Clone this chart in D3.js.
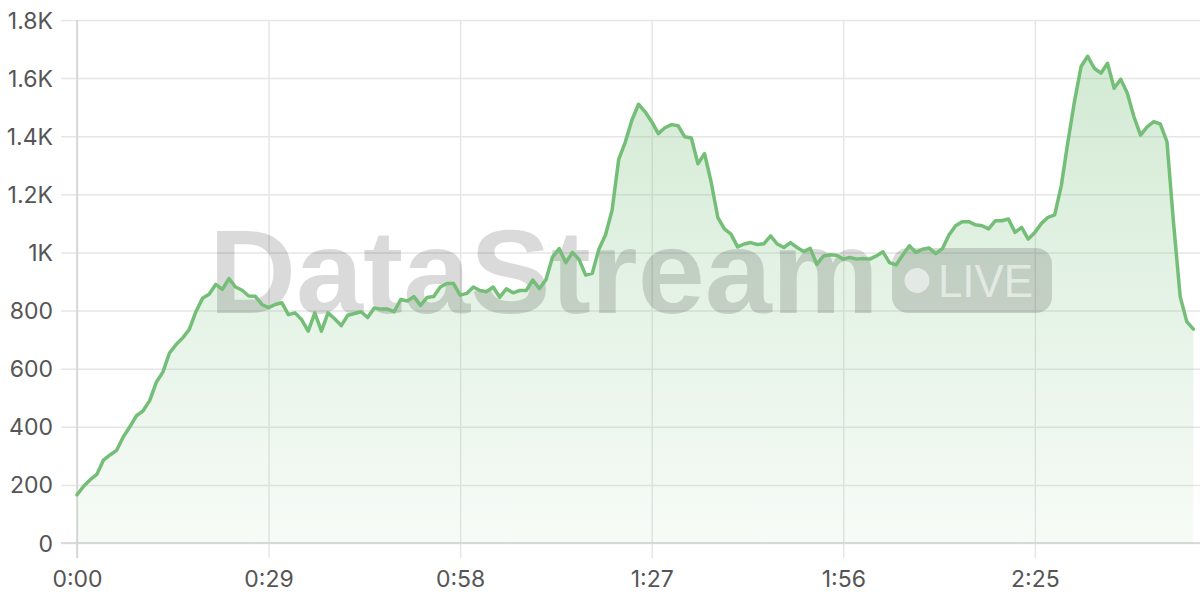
<!DOCTYPE html>
<html>
<head>
<meta charset="utf-8">
<script src="https://cdn.jsdelivr.net/npm/d3@7"></script>
<style>
  html, body { margin: 0; padding: 0; background: #fff; }
  svg { display: block; }
</style>
</head>
<body>
<svg id="chart" width="1200" height="600"></svg>
<script>
// ---- data (one value per second, t = 0..169) ----
const values = [
  166, 195, 218, 236, 285, 303, 319, 365, 400, 438,
  455, 490, 553, 588, 654, 683, 706, 735, 796, 842,
  856, 890, 873, 910, 881, 870, 850, 849, 821, 810,
  821, 827, 786, 792, 769, 729, 792, 729, 792, 772,
  748, 784, 790, 796, 776, 809, 805, 805, 796, 838,
  833, 848, 818, 845, 848, 881, 893, 893, 853, 859,
  881, 869, 865, 881, 846, 875, 861, 869, 869, 905,
  875, 907, 985, 1013, 965, 1000, 976, 922, 928, 1011,
  1060, 1145, 1320, 1380, 1455, 1510, 1484, 1450, 1409, 1429,
  1440, 1436, 1398, 1394, 1305, 1340, 1242, 1121, 1081, 1063,
  1019, 1029, 1034, 1027, 1030, 1057, 1029, 1017, 1034, 1017,
  1003, 1014, 959, 988, 992, 990, 977, 983, 977, 979,
  977, 988, 1002, 965, 957, 991, 1023, 1000, 1011, 1015,
  996, 1013, 1060, 1092, 1106, 1106, 1095, 1092, 1081, 1109,
  1109, 1115, 1069, 1086, 1046, 1069, 1100, 1121, 1129, 1230,
  1380, 1520, 1640, 1675, 1634, 1617, 1651, 1565, 1596, 1548,
  1467, 1404, 1432, 1450, 1442, 1381, 1100, 848, 762, 736
];
const seconds = values.map((_, i) => i);
const xTickValues = [0, 29, 58, 87, 116, 145];
const xTickLabels = ["0:00", "0:29", "0:58", "1:27", "1:56", "2:25"];
const yTickValues = [0, 200, 400, 600, 800, 1000, 1200, 1400, 1600, 1800];
const yTickLabels = ["0", "200", "400", "600", "800", "1K", "1.2K", "1.4K", "1.6K", "1.8K"];
const watermarkText = "DataStream";
const badgeText = "LIVE";

// ---- layout ----
const svg = d3.select("#chart");
const mLeft = 77, mRight = 1200, mTop = 20, mBottom = 543;
const x = d3.scaleLinear().domain([0, 170]).range([mLeft, mRight]);
const y = d3.scaleLinear().domain([0, 1800]).range([mBottom, mTop]);
const lineColor = "#74be78";
const font = "Inter, 'Liberation Sans', sans-serif";

// gradient
const defs = svg.append("defs");
const grad = defs.append("linearGradient").attr("id", "areaGrad")
  .attr("gradientUnits", "userSpaceOnUse")
  .attr("x1", 0).attr("x2", 0).attr("y1", mTop).attr("y2", mBottom);
grad.append("stop").attr("offset", "0%").attr("stop-color", lineColor).attr("stop-opacity", 0.34);
grad.append("stop").attr("offset", "100%").attr("stop-color", lineColor).attr("stop-opacity", 0.06);

// horizontal gridlines + y labels
const yAxis = d3.axisLeft(y).tickValues(yTickValues)
  .tickSize(-(mRight - 61))
  .tickFormat((d, i) => yTickLabels[i]);
const gy = svg.append("g").attr("transform", `translate(61,0)`).call(yAxis);
gy.select(".domain").remove();
gy.selectAll(".tick line").attr("stroke", "#e6e6e6").attr("stroke-width", 1.5)
  .attr("x1", 0).attr("x2", mRight - 61);
gy.selectAll(".tick text").attr("x", -8).attr("dy", "0.35em")
  .attr("fill", "#555").style("font-family", font).style("font-size", "23px");

// vertical gridlines + x labels
const xAxis = d3.axisBottom(x).tickValues(xTickValues)
  .tickSize(-(mBottom + 15 - mTop))
  .tickFormat((d, i) => xTickLabels[i]);
const gx = svg.append("g").attr("transform", `translate(0,${mBottom + 15})`).call(xAxis);
gx.select(".domain").remove();
gx.selectAll(".tick line").attr("stroke", "#e6e6e6").attr("stroke-width", 1.5);
gx.selectAll(".tick text").attr("y", 29).attr("dy", 0)
  .attr("fill", "#555").style("font-family", font).style("font-size", "23px");

// axis lines
svg.append("line").attr("x1", x(0)).attr("x2", x(0)).attr("y1", mTop).attr("y2", mBottom + 15)
  .attr("stroke", "#d2d2d2").attr("stroke-width", 1.5);
svg.append("line").attr("x1", 61).attr("x2", mRight).attr("y1", y(0)).attr("y2", y(0))
  .attr("stroke", "#d2d2d2").attr("stroke-width", 1.5);

// area
const area = d3.area().x((d, i) => x(seconds[i])).y0(y(0)).y1(d => y(d));
svg.append("path").datum(values).attr("d", area).attr("fill", "url(#areaGrad)");

// watermark
const wm = svg.append("g").attr("pointer-events", "none");
wm.append("text").attr("x", 209).attr("y", 313)
  .attr("textLength", 670).attr("lengthAdjust", "spacingAndGlyphs")
  .style("font-family", "'Liberation Sans', Arial, sans-serif")
  .style("font-weight", "bold").style("font-size", "119px")
  .attr("fill", "#000").attr("fill-opacity", 0.145).text(watermarkText);
wm.append("rect").attr("x", 892).attr("y", 248).attr("width", 160).attr("height", 65)
  .attr("rx", 16).attr("fill", "#000").attr("fill-opacity", 0.145);
wm.append("circle").attr("cx", 917).attr("cy", 280.5).attr("r", 12.5)
  .attr("fill", "#fff").attr("fill-opacity", 0.55);
wm.append("text").attr("x", 938).attr("y", 297)
  .attr("textLength", 95).attr("lengthAdjust", "spacingAndGlyphs")
  .style("font-family", "'Liberation Sans', Arial, sans-serif")
  .style("font-size", "47px")
  .attr("fill", "#fff").attr("fill-opacity", 0.55).text(badgeText);

// line
const line = d3.line().x((d, i) => x(seconds[i])).y(d => y(d));
svg.append("path").datum(values).attr("d", line)
  .attr("fill", "none").attr("stroke", lineColor).attr("stroke-width", 3.5)
  .attr("stroke-linejoin", "round").attr("stroke-linecap", "round");
</script>
</body>
</html>
